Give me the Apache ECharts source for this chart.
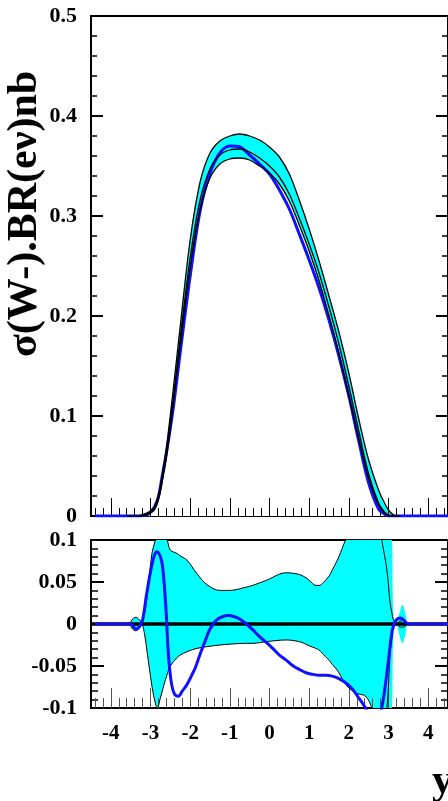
<!DOCTYPE html>
<html><head><meta charset="utf-8">
<script src="https://cdn.jsdelivr.net/npm/echarts@6/dist/echarts.min.js"></script>
<style>html,body{margin:0;padding:0;background:#fff}#c{width:448px;height:801px}</style>
</head><body><div id="c"></div>
<script>
// ---------- x ticks ----------
const xMajorTicks = [-4, -3, -2, -1, 0, 1, 2, 3, 4];
const xMinorTicks = [-4.4,-4.2,-3.8,-3.6,-3.4,-3.2,-2.8,-2.6,-2.4,-2.2,-1.8,-1.6,-1.4,-1.2,-0.8,-0.6,-0.4,-0.2,
                     0.2,0.4,0.6,0.8,1.2,1.4,1.6,1.8,2.2,2.4,2.6,2.8,3.2,3.4,3.6,3.8,4.2,4.4];

// ---------- top panel: sigma(W-).BR(e nu) vs y ----------
const xTop =      [-4.4, -3.6, -3.3, -3.1, -3.0, -2.9, -2.8, -2.7, -2.6, -2.5, -2.4, -2.25, -2.0, -1.75, -1.5, -1.25, -1.0, -0.75, -0.5, -0.25, 0, 0.25, 0.5, 0.75, 1.0, 1.25, 1.5, 1.75, 2.0, 2.25, 2.5, 2.75, 2.9, 3.0, 3.1, 3.2, 3.3, 4.5];
const centralTop = [null, 0, 0, 0.002, 0.004, 0.008, 0.018, 0.038, 0.062, 0.093, 0.126, 0.178, 0.258, 0.316, 0.347, 0.361, 0.366, 0.367, 0.364, 0.358, 0.350, 0.339, 0.322, 0.298, 0.272, 0.243, 0.209, 0.172, 0.130, 0.085, 0.042, 0.013, 0.004, 0.001, 0, 0, null, null];
const upperTop =   [null, null, 0, 0.003, 0.005, 0.009, 0.021, 0.042, 0.068, 0.101, 0.136, 0.190, 0.276, 0.334, 0.363, 0.375, 0.380, 0.382, 0.380, 0.376, 0.369, 0.359, 0.342, 0.316, 0.287, 0.255, 0.220, 0.184, 0.143, 0.097, 0.056, 0.026, 0.013, 0.006, 0.002, 0, 0, null];
const lowerTop =   [null, null, 0, 0.001, 0.003, 0.006, 0.016, 0.035, 0.058, 0.088, 0.121, 0.171, 0.249, 0.306, 0.338, 0.352, 0.357, 0.358, 0.356, 0.350, 0.343, 0.332, 0.315, 0.291, 0.265, 0.235, 0.200, 0.162, 0.120, 0.077, 0.038, 0.011, 0.003, 0, 0, 0, null, null];
const blueTop =    [0, 0, 0, 0.001, 0.004, 0.009, 0.0195, 0.041, 0.063, 0.088, 0.116, 0.164, 0.240, 0.305, 0.343, 0.363, 0.370, 0.369, 0.361, 0.352, 0.342, 0.326, 0.307, 0.282, 0.256, 0.228, 0.196, 0.160, 0.120, 0.075, 0.033, 0.007, 0.002, 0, 0, 0, 0, 0];

// ---------- bottom panel: relative deviation ----------
const bandX =    [-4.5, -3.55, -3.45, -3.37, -3.28, -3.22, -3.15, -3.08, -2.96, -2.875, -2.83, -2.75, -2.67, -2.58, -2.5, -2.33, -2.25, -2.08, -1.83, -1.58, -1.25, -1.0, -0.58, -0.42, -0.08, 0.42, 0.75, 0.92, 1.0, 1.17, 1.25, 1.33, 1.5, 1.58, 1.71, 1.75, 1.92, 2.17, 2.42, 2.58, 2.75, 2.83, 2.96, 3.04, 3.09, 3.125, 3.2, 3.27, 3.35, 3.43, 3.5, 4.5];
const edgeUp =   [0, 0, 0.006, 0.008, 0.005, 0.001, 0.012, 0.035, 0.085, 0.1, 0.108, 0.112, 0.108, 0.1, 0.088, 0.084, 0.081, 0.076, 0.060, 0.047, 0.040, 0.040, 0.044, 0.046, 0.052, 0.061, 0.059, 0.055, 0.052, 0.046, 0.046, 0.048, 0.057, 0.064, 0.076, 0.080, 0.1, 0.12, 0.13, 0.13, 0.12, 0.1, 0.064, 0.025, 0.012, 0.005, 0, 0.003, 0.004, 0.002, 0, 0];
const edgeLo =   [0, 0, -0.006, -0.008, -0.005, -0.001, -0.012, -0.035, -0.075, -0.095, -0.1, -0.088, -0.074, -0.06, -0.05, -0.04, -0.037, -0.033, -0.029, -0.027, -0.025, -0.024, -0.023, -0.023, -0.021, -0.019, -0.021, -0.024, -0.026, -0.029, -0.031, -0.035, -0.043, -0.048, -0.055, -0.058, -0.072, -0.082, -0.086, -0.1, -0.13, -0.13, -0.1, -0.035, -0.015, -0.003, 0, -0.003, -0.004, -0.002, 0, 0];
const fillUp =   [0, 0, 0.006, 0.008, 0.005, 0.001, 0.012, 0.035, 0.085, 0.1, 0.108, 0.112, 0.108, 0.1, 0.088, 0.084, 0.081, 0.076, 0.060, 0.047, 0.040, 0.040, 0.044, 0.046, 0.052, 0.061, 0.059, 0.055, 0.052, 0.046, 0.046, 0.048, 0.057, 0.064, 0.076, 0.080, 0.1, 0.12, 0.13, 0.13, 0.12, 0.12, 0.13, 0.12, 0.1, 0.01, 0, 0.012, 0.023, 0.012, 0, 0];
const fillLo =   [0, 0, -0.006, -0.008, -0.005, -0.001, -0.012, -0.035, -0.075, -0.095, -0.1, -0.088, -0.074, -0.06, -0.05, -0.04, -0.037, -0.033, -0.029, -0.027, -0.025, -0.024, -0.023, -0.023, -0.021, -0.019, -0.021, -0.024, -0.026, -0.029, -0.031, -0.035, -0.043, -0.048, -0.055, -0.058, -0.072, -0.082, -0.086, -0.1, -0.13, -0.13, -0.13, -0.12, -0.1, -0.01, 0, -0.012, -0.023, -0.012, 0, 0];
const blueRatioX = [-4.4, -3.5, -3.45, -3.37, -3.28, -3.2, -3.1, -3.0, -2.9, -2.83, -2.75, -2.7, -2.65, -2.6, -2.55, -2.48, -2.4, -2.3, -2.2, -2.08, -1.95, -1.87, -1.75, -1.62, -1.5, -1.33, -1.17, -1.04, -0.9, -0.75, -0.58, -0.42, -0.25, -0.08, 0.1, 0.25, 0.42, 0.6, 0.75, 0.92, 1.1, 1.25, 1.42, 1.58, 1.75, 1.92, 2.1, 2.25, 2.42, 2.55, 2.7, 2.83, 2.9, 3.0, 3.07, 3.12, 3.2, 3.3, 3.4, 3.5, 4.5];
const blueRatioY = [0, 0, -0.002, -0.006, -0.003, 0.005, 0.035, 0.062, 0.082, 0.086, 0.08, 0.07, 0.045, 0.01, -0.035, -0.068, -0.083, -0.086, -0.08, -0.072, -0.06, -0.052, -0.036, -0.02, -0.006, 0.005, 0.009, 0.010, 0.009, 0.006, 0.0, -0.007, -0.015, -0.022, -0.03, -0.037, -0.043, -0.05, -0.054, -0.058, -0.06, -0.061, -0.061, -0.062, -0.065, -0.070, -0.078, -0.088, -0.1, -0.115, -0.13, -0.1, -0.08, -0.043, -0.015, -0.003, 0.005, 0.007, 0.004, 0, 0];
const refX = [-4.5, 4.5];
const refY = [0, 0];

const F = 'Liberation Serif';
const pairs = (xs, ys) => xs.map((x, i) => [x, ys[i]]);
const chart = echarts.init(document.getElementById('c'));

function xAx(grid, major, len, color, labels) {
  return {
    type: 'value', gridIndex: grid, min: -4.5, max: 4.5, z: 3, position: 'bottom',
    axisLine: {show: false, onZero: false}, splitLine: {show: false},
    axisTick: {show: true, inside: true, length: len, customValues: major ? xMajorTicks : xMinorTicks,
               lineStyle: {color: color, width: 1}},
    axisLabel: labels ? {show: true, customValues: xMajorTicks, fontFamily: F, fontWeight: 'bold',
               fontSize: 21, color: '#000', margin: 15} : {show: false}
  };
}
function yAx(grid, pos, min, max, iv, len, mlen, labels) {
  return {
    type: 'value', gridIndex: grid, position: pos, min: min, max: max, interval: iv, z: 3,
    axisLine: {show: false, onZero: false}, splitLine: {show: false},
    axisTick: {show: true, inside: true, length: len, lineStyle: {color: '#000', width: 2}},
    minorTick: {show: true, splitNumber: 5, length: mlen, lineStyle: {color: '#000', width: 1.5}},
    axisLabel: labels ? {show: true, fontFamily: F, fontWeight: 'bold', fontSize: 22, color: '#000', margin: 14} : {show: false}
  };
}
function line(data, xi, color, width, z, extra) {
  return Object.assign({type: 'line', data: data, xAxisIndex: xi, yAxisIndex: xi, showSymbol: false, symbol: 'none',
    smooth: 0.35, clip: true, z: z, silent: true, animation: false,
    lineStyle: {color: color, width: width}}, extra || {});
}
function area(data, xi, color) {
  return line(data, xi, color, 0, 2, {lineStyle: {width: 0, opacity: 0}, areaStyle: {color: color, opacity: 1, origin: 'auto'}});
}

chart.setOption({
  animation: false,
  grid: [
    {left: 91, top: 16, width: 359, height: 500, show: true, borderColor: '#000', borderWidth: 2, backgroundColor: 'transparent'},
    {left: 91, top: 540, width: 359, height: 168, show: true, borderColor: '#000', borderWidth: 2, backgroundColor: 'transparent'}
  ],
  xAxis: [xAx(0, true, 18, '#000', false), xAx(0, false, 8, '#000', false),
          xAx(1, true, 20, '#555', true), xAx(1, false, 10, '#555', false)],
  yAxis: [yAx(0, 'left', 0, 0.5, 0.1, 12, 6, true), yAx(0, 'right', 0, 0.5, 0.1, 12, 6, false),
          yAx(1, 'left', -0.1, 0.1, 0.05, 13, 7, true), yAx(1, 'right', -0.1, 0.1, 0.05, 13, 7, false)],
  series: [
    area(pairs(xTop, upperTop), 0, '#00ffff'),
    area(pairs(xTop, lowerTop), 0, '#ffffff'),
    line(pairs(xTop, blueTop), 0, '#1010ff', 3, 4),
    line(pairs(xTop, upperTop), 0, '#000', 1.3, 4),
    line(pairs(xTop, lowerTop), 0, '#000', 1.3, 4),
    line(pairs(xTop, centralTop), 0, '#000', 1.3, 4),
    area(pairs(bandX, fillUp), 2, '#00ffff'),
    area(pairs(bandX, fillLo), 2, '#00ffff'),
    line(pairs(refX, refY), 2, '#000', 3.5, 4, {smooth: false}),
    line(pairs(bandX, edgeUp), 2, '#000', 1, 4),
    line(pairs(bandX, edgeLo), 2, '#000', 1, 4),
    line(pairs(blueRatioX, blueRatioY), 2, '#1010ff', 3, 5)
  ],
  graphic: [
    {type: 'text', x: 25, y: 214, rotation: Math.PI / 2, silent: true,
     style: {text: 'σ(W-).BR(eν)nb', font: 'bold 42px "Liberation Serif"', fill: '#000', textAlign: 'center', textVerticalAlign: 'middle'}},
    {type: 'text', x: 432, y: 782, silent: true,
     style: {text: 'y', font: 'bold 42px "Liberation Serif"', fill: '#000', textAlign: 'left', textVerticalAlign: 'middle'}}
  ]
});
</script></body></html>
